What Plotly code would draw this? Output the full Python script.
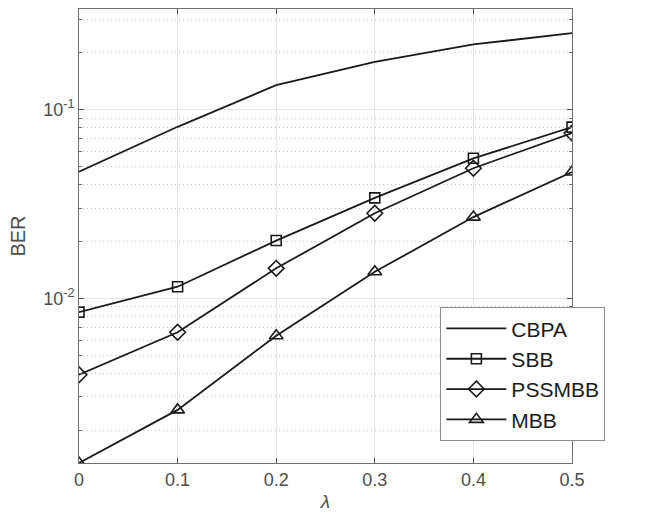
import plotly.graph_objects as go

lam = [0, 0.1, 0.2, 0.3, 0.4, 0.5]
cbpa = [0.0468, 0.0809, 0.1345, 0.1786, 0.221, 0.2535]
sbb = [0.00844, 0.0115, 0.0202, 0.0340, 0.0551, 0.0806]
pssmbb = [0.00393, 0.0066, 0.0144, 0.0282, 0.0488, 0.075]
mbb = [0.00134, 0.00256, 0.00633, 0.0138, 0.0269, 0.0466]

x_ticks = [0, 0.1, 0.2, 0.3, 0.4, 0.5]
x_ticktext = ["0", "0.1", "0.2", "0.3", "0.4", "0.5"]
y_ticks = [0.01, 0.1]
y_ticktext = ["10<sup>-2</sup>", "10<sup>-1</sup>"]
y_minor = [0.002, 0.003, 0.004, 0.005, 0.006, 0.007, 0.008, 0.009,
           0.02, 0.03, 0.04, 0.05, 0.06, 0.07, 0.08, 0.09, 0.2, 0.3]

LC = "#1a1a1a"
TC = "#4d4d4d"
FONT = "Liberation Sans, Arial, Helvetica, sans-serif"

fig = go.Figure()
series = [
    ("CBPA", cbpa, None),
    ("SBB", sbb, "square-open"),
    ("PSSMBB", pssmbb, "diamond-open"),
    ("MBB", mbb, "triangle-up-open"),
]
for name, ys, sym in series:
    if sym is None:
        fig.add_trace(go.Scatter(x=lam, y=ys, name=name, mode="lines",
                                 line=dict(color=LC, width=1.8)))
    else:
        size = 10 if sym == "square-open" else 12
        fig.add_trace(go.Scatter(x=lam, y=ys, name=name, mode="lines+markers",
                                 line=dict(color=LC, width=1.8),
                                 marker=dict(symbol=sym, size=size, color=LC,
                                             line=dict(color=LC, width=1.6))))

fig.update_layout(
    width=646, height=525,
    margin=dict(l=79, r=74, t=9, b=62),
    paper_bgcolor="white", plot_bgcolor="white",
    font=dict(family=FONT, color=TC, size=18),
    showlegend=True,
    legend=dict(x=0.733, y=0.343, xanchor="left", yanchor="top",
                bgcolor="white", bordercolor="#8c8c8c", borderwidth=1,
                font=dict(family=FONT, size=21, color=LC), itemwidth=60,
                tracegroupgap=0),
)
fig.update_xaxes(
    range=[0, 0.5], tickvals=x_ticks, ticktext=x_ticktext,
    showline=True, linecolor="#6e6e6e", linewidth=1, mirror="ticks",
    ticks="inside", ticklen=5, tickcolor="#4d4d4d",
    showgrid=True, gridcolor="#e6e6e6", gridwidth=1,
    zeroline=False,
    tickfont=dict(family=FONT, size=18, color=TC),
    title=dict(text="<i>λ</i>", font=dict(family=FONT, size=19, color=TC), standoff=6),
)
fig.update_yaxes(
    type="log", range=[-2.873, -0.468],
    tickvals=y_ticks, ticktext=y_ticktext,
    showline=True, linecolor="#6e6e6e", linewidth=1, mirror="ticks",
    ticks="inside", ticklen=5, tickcolor="#4d4d4d",
    showgrid=True, gridcolor="#e6e6e6", gridwidth=1,
    zeroline=False,
    tickfont=dict(family=FONT, size=18, color=TC),
    minor=dict(tickvals=y_minor, ticks="inside", ticklen=3, tickcolor="#6e6e6e",
               showgrid=True, gridcolor="#c4c4c4", griddash="1px,3px", gridwidth=1),
    title=dict(text="BER", font=dict(family=FONT, size=20, color=TC), standoff=12),
)

fig.write_html("out.html")
